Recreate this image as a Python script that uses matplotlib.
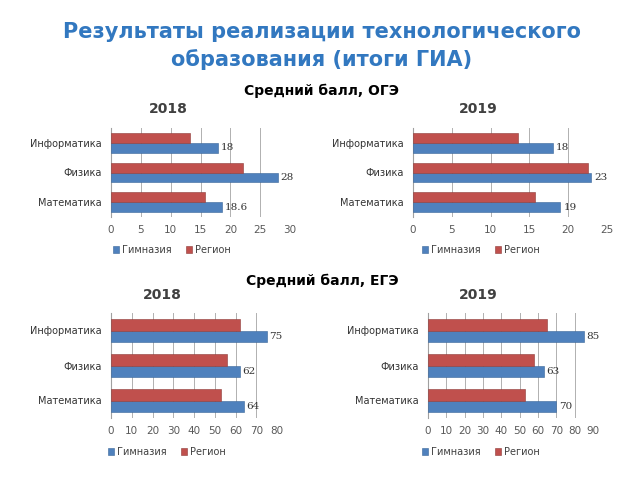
import matplotlib.pyplot as plt

subjects = ['Математика', 'Физика', 'Информатика']

oge_2018_gym = [18.6, 28, 18]
oge_2018_reg = [15.7, 22.2, 13.3]
oge_2019_gym = [19, 23, 18]
oge_2019_reg = [15.7, 22.6, 13.5]

ege_2018_gym = [64, 62, 75]
ege_2018_reg = [53, 56, 62]
ege_2019_gym = [70, 63, 85]
ege_2019_reg = [53, 58, 65]

oge_2018_lbl = ['18.6', '28', '18']
oge_2019_lbl = ['19', '23', '18']
ege_2018_lbl = ['64', '62', '75']
ege_2019_lbl = ['70', '63', '85']

BLUE = '#4F81BD'
RED = '#C0504D'
W, H = 640, 480

fig = plt.figure(figsize=(6.4, 4.8), dpi=100)


def px_axes(x0, x1, y0, y1):
    return fig.add_axes([x0 / W, 1 - y1 / H, (x1 - x0) / W, (y1 - y0) / H])


def draw(ax, gym, reg, lbl, xmax, step, year, title_xy, leg_xy):
    y = range(len(subjects))
    h = 0.33
    ax.barh([i - h / 2 for i in y], gym, height=h, color=BLUE, label='Гимназия',
            edgecolor='#3A6699', linewidth=0.4, zorder=3)
    ax.barh([i + h / 2 for i in y], reg, height=h, color=RED, label='Регион',
            edgecolor='#8E3A38', linewidth=0.4, zorder=3)
    for i, (v, t) in enumerate(zip(gym, lbl)):
        ax.text(v + xmax * 0.015, i - h / 2, t, va='center', ha='left',
                fontsize=7.5, family='DejaVu Serif', color='#333333')
    ax.set_xlim(0, xmax)
    ax.set_ylim(-0.5, len(subjects) - 0.5)
    ax.set_xticks(range(0, xmax + 1, step))
    ax.set_yticks(list(y))
    ax.set_yticklabels(subjects, fontsize=7, color='#333333')
    ax.tick_params(axis='x', labelsize=7.5, colors='#595959', length=0, pad=6)
    ax.tick_params(axis='y', length=0, pad=7)
    ax.grid(axis='x', color='#B0B0B0', linewidth=0.7, zorder=0)
    for s in ['top', 'right', 'bottom']:
        ax.spines[s].set_visible(False)
    ax.spines['left'].set_color('#A0A0A0')
    fig.text(title_xy[0] / W, 1 - title_xy[1] / H, year, ha='center', va='center',
             fontsize=10, fontweight='bold', color='#404040')
    ax.legend(loc='center', bbox_to_anchor=(leg_xy[0] / W, 1 - leg_xy[1] / H),
              bbox_transform=fig.transFigure, ncol=2, frameon=False, fontsize=7,
              handlelength=0.6, handleheight=0.6, handletextpad=0.3, columnspacing=1.5,
              labelcolor='#404040')


ax1 = px_axes(111, 290, 128, 217)
draw(ax1, oge_2018_gym, oge_2018_reg, oge_2018_lbl, 30, 5, '2018', (168, 109), (172, 250))
ax2 = px_axes(413, 607, 128, 217)
draw(ax2, oge_2019_gym, oge_2019_reg, oge_2019_lbl, 25, 5, '2019', (478, 109), (481, 250))
ax3 = px_axes(111, 277, 313, 418)
draw(ax3, ege_2018_gym, ege_2018_reg, ege_2018_lbl, 80, 10, '2018', (162, 295), (167, 452))
ax4 = px_axes(428, 593, 313, 418)
draw(ax4, ege_2019_gym, ege_2019_reg, ege_2019_lbl, 90, 10, '2019', (478, 295), (481, 452))

fig.text(322 / W, 1 - 32 / H, 'Результаты реализации технологического', ha='center',
         va='center', fontsize=15, fontweight='bold', color='#3278C0')
fig.text(322 / W, 1 - 60 / H, 'образования (итоги ГИА)', ha='center',
         va='center', fontsize=15, fontweight='bold', color='#3278C0')
fig.text(322 / W, 1 - 91 / H, 'Средний балл, ОГЭ', ha='center', va='center',
         fontsize=10, fontweight='bold', color='black')
fig.text(322 / W, 1 - 281 / H, 'Средний балл, ЕГЭ', ha='center', va='center',
         fontsize=10, fontweight='bold', color='black')

fig.savefig('out.png', dpi=100)
